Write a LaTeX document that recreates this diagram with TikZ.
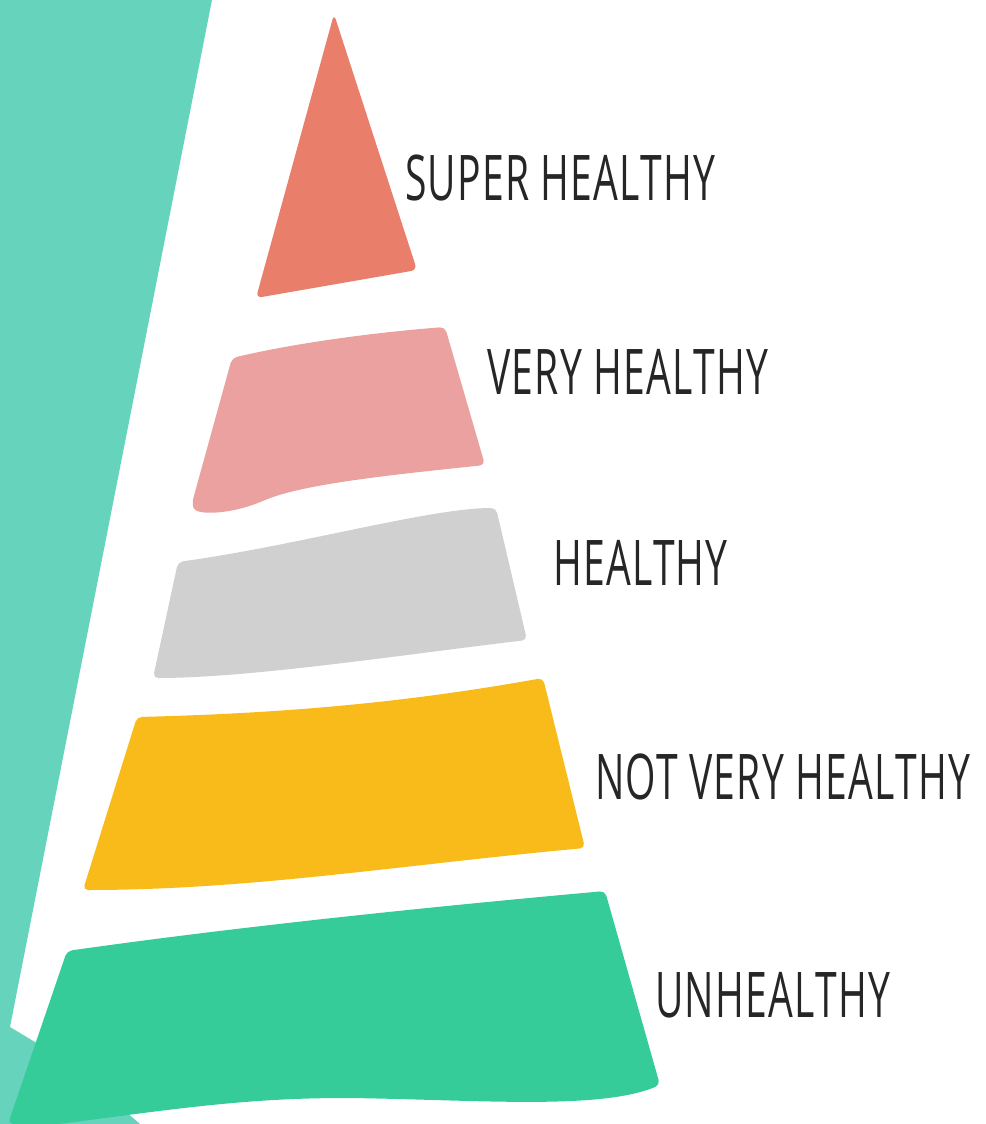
\documentclass[tikz,border=0pt]{standalone}
\usepackage{fontspec}
\setmainfont[FakeStretch=0.62,LetterSpace=2]{Open Sans}
\definecolor{tealbg}{HTML}{66D4BC}
\definecolor{greenlvl}{HTML}{36CC99}
\definecolor{yellowlvl}{HTML}{F9BB1A}
\definecolor{greylvl}{HTML}{D0D0D0}
\definecolor{pinklvl}{HTML}{EBA1A0}
\definecolor{salmonlvl}{HTML}{E97E6A}
\begin{document}
\begin{tikzpicture}[x=1pt,y=-1pt,every
	node/.style={anchor=west,inner sep=0pt,text=black!85,
	  font=\fontsize{63}{70}\selectfont}]
      \useasboundingbox (0,0) rectangle (985,1124);
      \fill [tealbg] (0,0) -- (212,0) -- (10,1027) -- (40,1045) -- (125,1111) -- (140,1124) -- (0,1124) -- cycle;

      \fill [salmonlvl,rounded corners=6pt] (334,14) -- (417,270) -- (256,298) -- cycle;
      \fill [pinklvl,rounded corners=5pt] (232,358) .. controls (300,342) and (380,332) .. (445,327)
        -- (485,465) .. controls (400,474) and (310,483) .. (265,500)
        .. controls (232,514) and (196,516) .. (192,503) -- cycle;
      \fill [greylvl,rounded corners=5pt] (178,562) .. controls (300,545) and (430,508) .. (496,508)
        -- (527,640) .. controls (400,655) and (250,678) .. (153,678) -- cycle;
      \fill [yellowlvl,rounded corners=5pt] (137,717) .. controls (300,713) and (420,700) .. (543,678)
        -- (585,848) .. controls (400,865) and (250,890) .. (83,890) -- cycle;
      \fill [greenlvl,rounded corners=5pt] (67,951) .. controls (250,925) and (450,905) .. (605,891)
        -- (660,1085) .. controls (600,1110) and (480,1100) .. (350,1098)
        .. controls (250,1098) and (180,1108) .. (60,1124) -- (8,1124) -- cycle;

      \node (super) at (405,178) {SUPER HEALTHY};
      \node (very) at (487,372) {VERY HEALTHY};
      \node (healthy) at (553,563) {HEALTHY};
      \node (notvery) at (595,777) {NOT VERY HEALTHY};
      \node (unhealthy) at (655,995) {UNHEALTHY};
    \end{tikzpicture}
\end{document}
